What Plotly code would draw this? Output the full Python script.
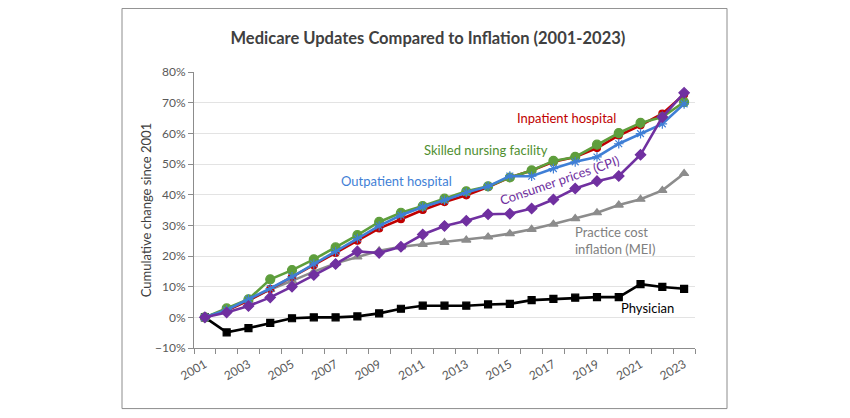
import plotly.graph_objects as go

years = list(range(2001, 2024))

physician = [0, -4.9, -3.5, -1.8, -0.3, 0, 0, 0.3, 1.3, 2.8, 3.8, 3.8, 3.8, 4.2, 4.4, 5.6, 6.0, 6.4, 6.6, 6.6, 10.8, 9.9, 9.3]
mei = [0, 2.4, 5.6, 9.1, 11.9, 14.9, 17.6, 19.7, 21.7, 23.0, 23.8, 24.4, 25.2, 26.2, 27.3, 28.7, 30.4, 32.2, 34.1, 36.6, 38.5, 41.4, 46.9]
cpi = [0, 1.6, 3.7, 6.5, 10.0, 13.8, 17.4, 21.5, 21.0, 23.0, 27.0, 29.8, 31.5, 33.6, 33.8, 35.5, 38.4, 42.0, 44.4, 46.1, 53.0, 65.3, 73.2]
inpatient = [0, 2.2, 5.5, 9.2, 13.2, 17.0, 21.0, 25.0, 29.0, 32.0, 35.0, 37.6, 39.8, 42.5, 45.6, 47.9, 50.7, 52.3, 55.2, 59.3, 62.6, 66.4, 72.7]
snf = [0, 2.9, 5.9, 12.4, 15.4, 18.9, 22.8, 26.8, 31.1, 34.1, 36.3, 38.7, 41.1, 42.7, 45.6, 47.9, 51.0, 52.3, 56.3, 60.1, 63.4, 65.3, 70.2]
outpatient = [0, 2.4, 5.9, 9.4, 13.2, 17.4, 21.4, 25.7, 29.8, 33.3, 36.0, 38.2, 40.7, 42.7, 46.1, 46.0, 48.5, 50.7, 52.3, 56.6, 59.9, 63.1, 69.6]

tick_years = list(range(2001, 2024, 2))
tick_labels = [str(y) for y in tick_years]

FONT = "Lato"

fig = go.Figure()

def add(y, name, color, symbol, size):
    fig.add_trace(go.Scatter(
        x=years, y=y, name=name, mode="lines+markers",
        line=dict(color=color, width=2.6),
        marker=dict(color=color, symbol=symbol, size=size,
                    line=dict(color=color, width=1.2)),
        showlegend=False,
    ))

add(physician, "Physician", "#000000", "square", 7)
add(mei, "Practice cost inflation (MEI)", "#8C8C8C", "triangle-up", 8)
add(inpatient, "Inpatient hospital", "#C00000", "circle", 7)
add(snf, "Skilled nursing facility", "#5E9E3C", "circle", 9)
add(outpatient, "Outpatient hospital", "#3F7FD6", "asterisk-open", 8)
add(cpi, "Consumer prices (CPI)", "#7030A0", "diamond", 8)

annots = [
    dict(text="Inpatient hospital", x=2017.6, y=64.9, color="#C00000", angle=0, xanchor="center", align="center"),
    dict(text="Skilled nursing facility", x=2013.9, y=54.5, color="#4F8F2F", angle=0, xanchor="center", align="center"),
    dict(text="Outpatient hospital", x=2009.8, y=44.4, color="#3F7FD6", angle=0, xanchor="center", align="center"),
    dict(text="Consumer prices (CPI)", x=2017.3, y=44.7, color="#7030A0", angle=-19, xanchor="center", align="center"),
    dict(text="Practice cost<br>inflation (MEI)", x=2017.9, y=24.9, color="#808080", angle=0, xanchor="left", align="left"),
    dict(text="Physician", x=2021.3, y=3.0, color="#000000", angle=0, xanchor="center", align="center"),
]
for a in annots:
    fig.add_annotation(
        text=a["text"], x=a["x"], y=a["y"], xref="x", yref="y",
        showarrow=False, textangle=a["angle"], xanchor=a["xanchor"], yanchor="middle",
        align=a["align"], font=dict(family=FONT, size=13, color=a["color"]),
    )

# outer chart frame
fig.add_shape(type="rect", xref="paper", yref="paper",
              x0=-0.1437, x1=1.0639, y0=-0.2195, y1=1.2303,
              line=dict(color="#8C8C8C", width=1), fillcolor="rgba(0,0,0,0)", layer="below")

fig.update_layout(
    width=850, height=418,
    margin=dict(l=186, r=163, t=64, b=78),
    paper_bgcolor="white", plot_bgcolor="white",
    title=dict(text="<b>Medicare Updates Compared to Inflation (2001-2023)</b>",
               x=0.494, y=0.928, xanchor="center", yanchor="middle",
               font=dict(family=FONT, size=16.5, color="#404040")),
    font=dict(family=FONT, size=12, color="#595959"),
    xaxis=dict(
        range=[2000.5, 2023.5], tickmode="array", tickvals=tick_years, ticktext=tick_labels,
        tickangle=-30, ticks="", showgrid=False, zeroline=False,
        showline=True, linecolor="#8C8C8C", linewidth=1, ticklabelstandoff=4,
        tickfont=dict(family=FONT, size=12, color="#595959"),
        minor=dict(tickmode="linear", tick0=2000.5, dtick=1, ticks="outside",
                   ticklen=5, tickcolor="#8C8C8C", showgrid=False),
    ),
    yaxis=dict(
        range=[-10, 80], dtick=10, tick0=0, ticksuffix="%",
        ticks="outside", ticklen=5, tickcolor="#8C8C8C",
        showgrid=True, gridcolor="#E3E3E3", gridwidth=1,
        zeroline=False, showline=True, linecolor="#8C8C8C", linewidth=1,
        tickfont=dict(family=FONT, size=12, color="#595959"),
        title=dict(text="Cumulative change since 2001", standoff=0,
                   font=dict(family=FONT, size=13, color="#404040")),
    ),
)

fig.write_html("out.html")
